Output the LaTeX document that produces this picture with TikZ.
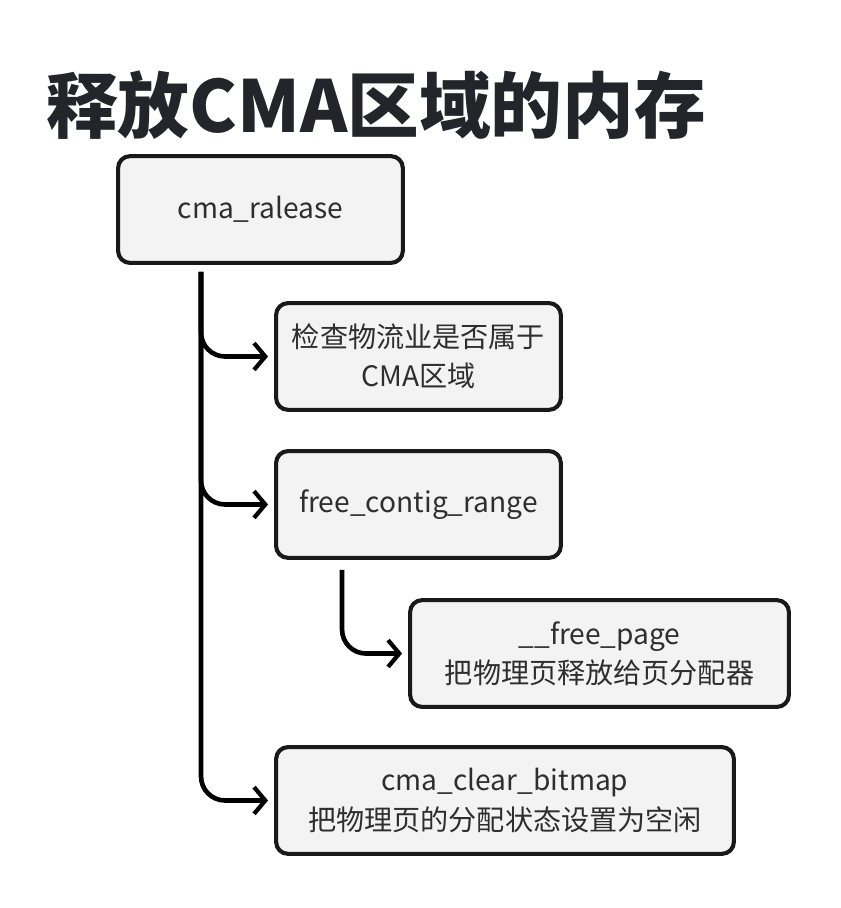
\documentclass[tikz,border=0pt]{standalone}
\usepackage{fontspec}
\setmainfont{Noto Sans CJK SC}
\usepackage{xcolor}
\usepackage{tikz}
\usetikzlibrary{calc, arrows.meta}

\definecolor{boxfill}{HTML}{F3F3F3}
\definecolor{boxtext}{HTML}{2E2E2E}
\definecolor{titletext}{HTML}{23252A}

\begin{document}
\begin{tikzpicture}[
    box/.style = {draw = black!90, line width = 2.9pt, rounded corners = 0.3cm, fill = boxfill, text = boxtext, font = \fontsize{20}{28}\selectfont, align = center, minimum height = 2.670cm},
    link/.style = {line width = 3.3pt, rounded corners = 0.6cm, -{Straight Barb[length = 8pt, width = 19pt, line width = 3pt]}, shorten > = 0.15cm}
]
    \useasboundingbox (+0.000, +0.000) rectangle (+21.000, -22.700);
    
    \node[font = \fontsize{51}{51}\selectfont\bfseries, text = titletext] (title) at (+9.400, -2.625) {释放CMA区域的内存};
    
    % Boxes
    \node[box, minimum width = 7.120cm] (ralease) at (+6.512, -5.238) {cma\_ralease};
    %
    \node[box, minimum width = 7.120cm] (check) at (+10.462, -8.912) {检查物流业是否属于\\CMA区域};
    %
    \node[box, minimum width = 7.120cm] (contig) at (+10.462, -12.612) {free\_contig\_range};
    %
    \node[box, minimum width = 9.470cm] (freepage) at (+14.988, -16.338) {\_\_free\_page\\把物理页释放给页分配器};
    %
    \node[box, minimum width = 11.445cm] (bitmap) at (+12.625, -20.012) {cma\_clear\_bitmap\\把物理页的分配状态设置为空闲};
    
    % Links
    \coordinate (trunk) at ($(ralease.south west) + (+2.125, -0.175)$);
    \coordinate (subtrunk) at ($(contig.south west) + (+1.700, -0.250)$);
    
    \draw[link] (trunk) |- (check.west);
    %
    \draw[link] (trunk) |- (contig.west);
    %
    \draw[link] (trunk) |- (bitmap.west);
    
    \draw[link] (subtrunk) |- (freepage.west);
\end{tikzpicture}
\end{document}
